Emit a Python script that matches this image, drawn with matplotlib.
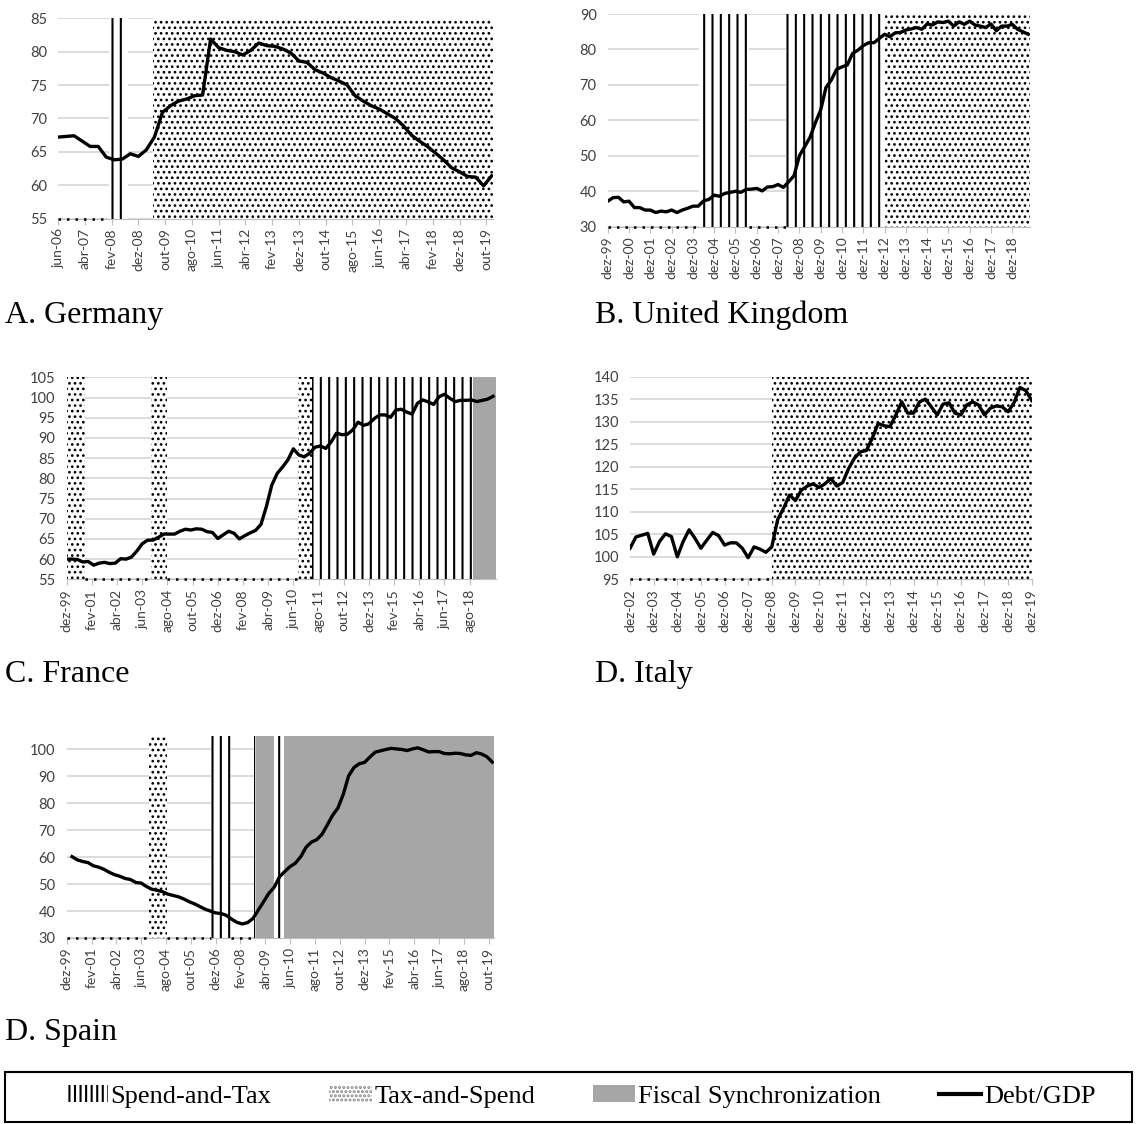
import numpy as np
import matplotlib
matplotlib.use('Agg')
import matplotlib.pyplot as plt
from matplotlib.patches import Patch, Rectangle
from matplotlib.lines import Line2D

plt.rcParams['font.family'] = 'Lato'
plt.rcParams['hatch.linewidth'] = 1.5

# quarterly debt/GDP, x in months counted from the first tick label of each panel
de_debt = [67.2, 67.3, 67.4, 66.6, 65.8, 65.8, 64.2, 63.8, 63.9, 64.7, 64.3, 65.3, 67.2, 70.9,
           71.9, 72.6, 72.9, 73.4, 73.5, 81.9, 80.6, 80.2, 80.0, 79.5, 80.2, 81.3, 80.9, 80.8,
           80.4, 79.8, 78.6, 78.4, 77.3, 76.8, 76.1, 75.6, 75.0, 73.4, 72.6, 71.9, 71.4, 70.7,
           70.0, 68.9, 67.5, 66.6, 65.8, 64.8, 63.8, 62.6, 62.0, 61.3, 61.2, 59.9, 61.4]
de_labels = ['jun-06', 'abr-07', 'fev-08', 'dez-08', 'out-09', 'ago-10', 'jun-11', 'abr-12',
             'fev-13', 'dez-13', 'out-14', 'ago-15', 'jun-16', 'abr-17', 'fev-18', 'dez-18', 'out-19']
de_regimes = [('base', 0, 19), ('st', 19, 26), ('ts', 35.5, 162.5)]

uk_debt = [37.2, 38.2, 38.3, 37.0, 37.2, 35.4, 35.4, 34.7, 34.7, 34.0, 34.4, 34.2, 34.7, 34.0,
           34.7, 35.2, 35.8, 35.8, 37.3, 37.7, 38.9, 38.6, 39.4, 39.7, 40.0, 39.7, 40.5, 40.6,
           40.8, 40.1, 41.2, 41.3, 41.9, 41.1, 42.7, 44.4, 50.0, 52.6, 55.2, 59.3, 62.9, 69.3,
           71.4, 74.4, 75.1, 75.6, 78.9, 79.8, 81.1, 81.9, 81.9, 83.1, 84.3, 83.6, 84.7, 84.8,
           85.5, 85.8, 86.2, 85.7, 87.2, 86.9, 87.8, 87.6, 88.0, 86.6, 87.8, 87.1, 88.0, 86.9,
           86.6, 86.2, 87.2, 85.3, 86.6, 86.6, 87.1, 85.7, 85.0, 84.3]
uk_labels = ['dez-99', 'dez-00', 'dez-01', 'dez-02', 'dez-03', 'dez-04', 'dez-05', 'dez-06',
             'dez-07', 'dez-08', 'dez-09', 'dez-10', 'dez-11', 'dez-12', 'dez-13', 'dez-14',
             'dez-15', 'dez-16', 'dez-17', 'dez-18']
uk_regimes = [('base', 0, 51.5), ('st', 51.5, 79.5), ('base', 79.5, 100.5),
              ('st', 100.5, 156.5), ('ts', 156.5, 238)]

fr_debt = [60.0, 60.0, 59.9, 59.3, 59.4, 58.5, 59.0, 59.2, 58.9, 59.0, 60.1, 60.0, 60.5, 62.0,
           63.8, 64.7, 64.7, 65.4, 66.2, 66.2, 66.2, 66.9, 67.4, 67.2, 67.5, 67.4, 66.8, 66.6,
           65.1, 66.0, 66.9, 66.4, 65.0, 65.8, 66.5, 67.1, 68.6, 73.0, 78.3, 81.2, 82.8, 84.6,
           87.3, 85.8, 85.3, 86.2, 87.7, 88.0, 87.4, 89.0, 91.2, 90.8, 90.9, 92.0, 93.9, 93.1,
           93.5, 94.8, 95.7, 95.7, 95.1, 96.9, 97.1, 96.4, 95.9, 98.6, 99.4, 98.9, 98.3, 100.2,
           100.8, 99.8, 99.0, 99.3, 99.3, 99.4, 99.0, 99.3, 99.6, 100.3]
fr_labels = ['dez-99', 'fev-01', 'abr-02', 'jun-03', 'ago-04', 'out-05', 'dez-06', 'fev-08',
             'abr-09', 'jun-10', 'ago-11', 'out-12', 'dez-13', 'fev-15', 'abr-16', 'jun-17', 'ago-18']
fr_regimes = [('ts', 0, 10), ('base', 10, 47), ('ts', 47, 55.5), ('base', 55.5, 128.5),
              ('ts', 128.5, 136.5), ('st', 136.5, 226), ('fs', 226, 238.5)]

it_debt = [101.9, 104.4, 104.8, 105.2, 100.6, 103.4, 105.1, 104.5, 100.0, 103.4, 106.0, 104.1,
           101.9, 103.7, 105.4, 104.7, 102.6, 103.1, 103.1, 101.9, 99.8, 102.2, 101.7, 101.0,
           102.2, 108.3, 110.8, 113.7, 112.5, 114.8, 115.7, 116.2, 115.4, 116.2, 117.4, 115.7,
           116.5, 119.6, 121.9, 123.3, 123.6, 126.3, 129.6, 129.1, 128.9, 131.5, 134.4, 131.9,
           131.9, 134.4, 135.0, 133.3, 131.5, 133.9, 134.2, 131.9, 131.5, 133.7, 134.4, 133.7,
           131.5, 133.0, 133.5, 133.3, 132.2, 134.2, 137.6, 136.9, 134.7]
it_labels = ['dez-02', 'dez-03', 'dez-04', 'dez-05', 'dez-06', 'dez-07', 'dez-08', 'dez-09',
             'dez-10', 'dez-11', 'dez-12', 'dez-13', 'dez-14', 'dez-15', 'dez-16', 'dez-17',
             'dez-18', 'dez-19']
it_regimes = [('base', 0, 72), ('ts', 72, 204)]

es_debt = [60.2, 59.0, 58.4, 58.0, 56.8, 56.3, 55.5, 54.4, 53.5, 52.9, 52.1, 51.7, 50.6, 50.4,
           49.1, 48.1, 47.7, 47.2, 46.3, 45.8, 45.3, 44.5, 43.5, 42.7, 41.7, 40.7, 40.0, 39.3,
           39.1, 38.4, 37.0, 35.8, 35.2, 35.7, 37.2, 40.3, 43.4, 46.6, 48.8, 52.7, 54.7, 56.5,
           57.8, 60.2, 63.7, 65.6, 66.5, 68.5, 72.0, 75.6, 78.3, 83.4, 90.2, 93.3, 94.7, 95.2,
           97.2, 99.0, 99.5, 100.0, 100.4, 100.2, 100.0, 99.6, 100.2, 100.6, 99.9, 99.1, 99.2,
           99.2, 98.5, 98.4, 98.6, 98.5, 98.0, 97.8, 98.8, 98.3, 97.3, 95.3]
es_labels = ['dez-99', 'fev-01', 'abr-02', 'jun-03', 'ago-04', 'out-05', 'dez-06', 'fev-08',
             'abr-09', 'jun-10', 'ago-11', 'out-12', 'dez-13', 'fev-15', 'abr-16', 'jun-17',
             'ago-18', 'out-19']
es_regimes = [('base', 0, 46.5), ('ts', 46.5, 56.5), ('base', 56.5, 81.5), ('st', 81.5, 92.5),
              ('base', 92.5, 105.5), ('st', 105.5, 106.5), ('fs', 106.5, 117),
              ('st', 117, 122.5), ('fs', 122.5, 241)]

GREY = '#a6a6a6'
TXT = '#404040'


def thin_hatch(p, lw):
    if hasattr(p, 'set_hatch_linewidth'):
        p.set_hatch_linewidth(lw)
    return p


def draw_panel(rect, debt, first_month, labels, step, regimes, xmax, ylim, ystep, title, title_xy):
    ax = fig.add_axes(rect)
    months = first_month + 3 * np.arange(len(debt))
    ax.set_xlim(0, xmax)
    ax.set_ylim(*ylim)
    ax.set_axisbelow(True)
    ax.grid(axis='y', color='#d9d9d9', lw=1.3)
    for kind, a, b in regimes:
        if kind == 'base':
            ax.plot([a, b], [ylim[0], ylim[0]], color='black', lw=1.8,
                    ls=(0, (1, 2.4)), zorder=1.2, clip_on=False)
        elif kind == 'st':
            ax.axvspan(a, b, facecolor='white', edgecolor='black', hatch='||', lw=0, zorder=1.3)
        elif kind == 'ts':
            thin_hatch(ax.axvspan(a, b, facecolor='white', edgecolor='black', hatch='...',
                                  lw=0, zorder=1.3), 1.15)
        else:
            ax.axvspan(a, b, facecolor=GREY, lw=0, zorder=1.3)
    ax.plot(months, debt, color='black', lw=2.4, zorder=3, solid_joinstyle='round')
    ax.set_xticks(np.arange(len(labels)) * step)
    ax.set_xticklabels(labels, rotation=90, fontsize=10, color=TXT)
    ax.set_yticks(np.arange(ylim[0], ylim[1] + 0.1, ystep))
    ax.tick_params(axis='y', length=0, labelsize=10.5, labelcolor=TXT, pad=8)
    ax.tick_params(axis='x', length=4, color='#bfbfbf', pad=3)
    for s in ['top', 'left', 'right']:
        ax.spines[s].set_visible(False)
    ax.spines['bottom'].set_color('#bfbfbf')
    ax.spines['bottom'].set_zorder(1.1)
    fig.text(title_xy[0], title_xy[1], title, family='Liberation Serif', fontsize=23, va='baseline')
    return ax


fig = plt.figure(figsize=(11.36, 11.24), dpi=100)

draw_panel([0.0511, 0.8056, 0.3829, 0.1781], de_debt, 0, de_labels, 10, de_regimes, 162.5,
           (55, 85), 5, 'A. Germany', (0.0044, 0.7126))
draw_panel([0.5350, 0.7983, 0.3717, 0.1892], uk_debt, 0, uk_labels, 12, uk_regimes, 238,
           (30, 90), 10, 'B. United Kingdom', (0.5238, 0.7126))
draw_panel([0.0587, 0.4846, 0.3777, 0.1797], fr_debt, 0, fr_labels, 14, fr_regimes, 238.5,
           (55, 105), 5, 'C. France', (0.0044, 0.3932))
draw_panel([0.5546, 0.4846, 0.3536, 0.1803], it_debt, 0, it_labels, 12, it_regimes, 204,
           (95, 140), 5, 'D. Italy', (0.5238, 0.3932))
ax = draw_panel([0.0587, 0.1655, 0.3762, 0.1797], es_debt, 3, es_labels, 14, es_regimes, 241,
                (30, 105), 10, 'D. Spain', (0.0044, 0.0747))
ax.set_yticks(np.arange(30, 101, 10))

fig.patches.append(Rectangle((0.0044, 0.0018), 0.9925, 0.0445, transform=fig.transFigure,
                             fill=False, edgecolor='black', lw=1.5))
handles = [thin_hatch(Patch(facecolor='white', edgecolor='black', hatch='|||', lw=0), 0.8),
           thin_hatch(Patch(facecolor='white', edgecolor='#888888', hatch='....', lw=0), 0.6),
           Patch(facecolor=GREY, lw=0),
           Line2D([0], [0], color='black', lw=3)]
fig.legend(handles, ['Spend-and-Tax', 'Tax-and-Spend', 'Fiscal Synchronization', 'Debt/GDP'],
           loc='center', bbox_to_anchor=(0.511, 0.0245), ncol=4, frameon=False,
           prop={'family': 'Liberation Serif', 'size': 19}, handlelength=1.6, handleheight=0.6,
           handletextpad=0.1, columnspacing=2.2)

fig.savefig('out.png', dpi=100)
